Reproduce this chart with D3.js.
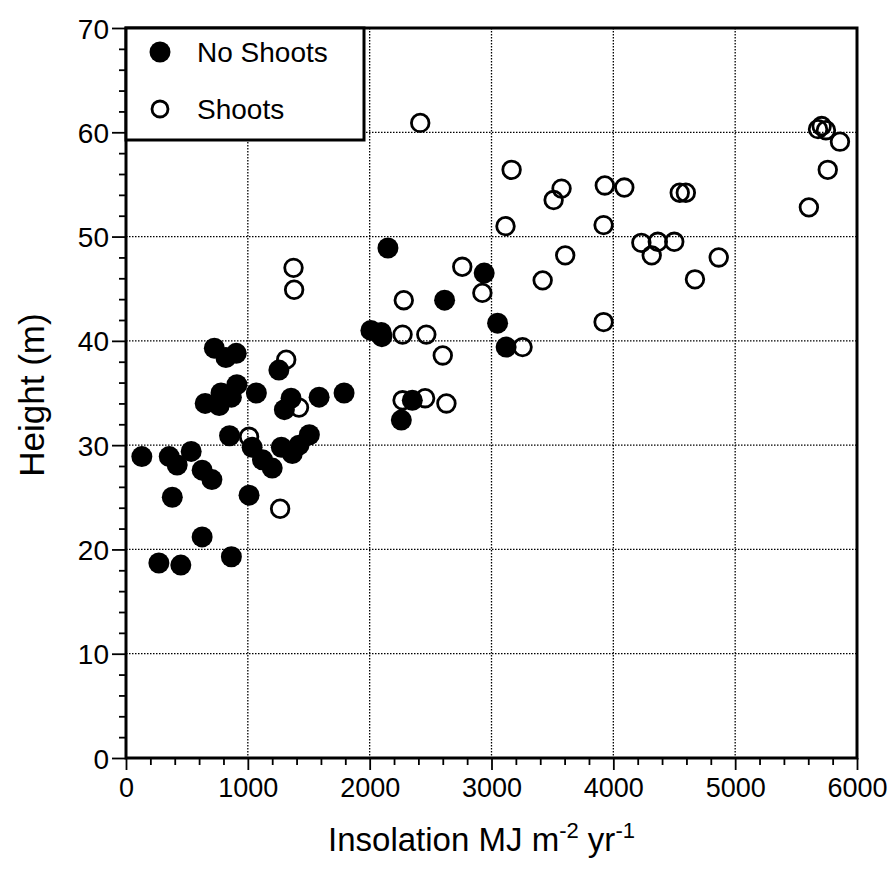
<!DOCTYPE html>
<html>
<head>
<meta charset="utf-8">
<script src="https://cdn.jsdelivr.net/npm/d3@7"></script>
<style>
	body { margin: 0; background: #fff; }
	text { font-family: "Liberation Sans", Arial, Helvetica, sans-serif; fill: #000; }
</style>
</head>
<body>
<div id="height_plot"></div>
<script>
// insolation (MJ m-2 yr-1) and height (m)
var noShootsX = [130, 270, 450, 355, 420, 535, 380, 625, 705, 625, 865,
	725, 820, 905, 650, 765, 780, 910, 865, 850, 1010,
	1070, 1255, 1355, 1300, 1585, 1790,
	1035, 1120, 1200, 1275, 1365, 1420, 1505,
	2150, 2940, 2615, 3050, 3120, 2010, 2095, 2100, 2350, 2260];
var noShootsY = [28.9, 18.7, 18.5, 28.9, 28.1, 29.4, 25.0, 27.6, 26.7, 21.2, 19.3,
	39.3, 38.4, 38.8, 34.0, 33.8, 35.0, 35.8, 34.6, 30.9, 25.2,
	35.0, 37.2, 34.5, 33.4, 34.6, 35.0,
	29.8, 28.6, 27.8, 29.8, 29.2, 30.0, 31.0,
	48.9, 46.5, 43.9, 41.7, 39.4, 41.0, 40.8, 40.4, 34.3, 32.4];

var shootsX = [1375, 1380, 1315, 1420, 1010, 1265,
	2415, 2760, 2925, 2280, 2270, 2465, 2600, 2270, 2455, 2630, 3255,
	3165, 3115, 3575, 3510, 3420, 3605, 3930, 4090, 3920, 3920,
	4230, 4365, 4500, 4315, 4545, 4595, 4865, 4670,
	5605, 5760, 5860, 5680, 5710, 5745];
var shootsY = [47.0, 44.9, 38.2, 33.6, 30.8, 23.9,
	60.9, 47.1, 44.6, 43.9, 40.6, 40.6, 38.6, 34.3, 34.5, 34.0, 39.4,
	56.4, 51.0, 54.6, 53.5, 45.8, 48.2, 54.9, 54.7, 51.1, 41.8,
	49.4, 49.5, 49.5, 48.2, 54.2, 54.2, 48.0, 45.9,
	52.8, 56.4, 59.1, 60.3, 60.6, 60.2];

var xTicks = [0, 1000, 2000, 3000, 4000, 5000, 6000];
var yTicks = [0, 10, 20, 30, 40, 50, 60, 70];
var legendLabels = ["No Shoots", "Shoots"];

var ScatterPlot = function(options) {
	this.opt = {
		'target': 'height_plot',
		'width': 894,
		'height': 872
	};
	Object.assign(this.opt, options || {});
	this.setupSVG();
	this.drawGrid();
	this.drawPoints();
	this.drawAxes();
	this.drawLegend();
};

ScatterPlot.prototype.setupSVG = function(){
	this.margin = {top: 28, right: 37, bottom: 114, left: 126};
	var width = this.opt.width - this.margin.left - this.margin.right;
	var height = this.opt.height - this.margin.top - this.margin.bottom;
	this.w = width;
	this.h = height;

	this.x = d3.scaleLinear().domain([0, 6000]).range([0, width]);
	this.y = d3.scaleLinear().domain([0, 70]).range([height, 0]);

	this.svg_out = d3.select("#" + this.opt.target).append("svg")
	.attr("width", this.opt.width)
	.attr("height", this.opt.height);

	this.svg = this.svg_out.append("g")
	.attr("transform", "translate(" + this.margin.left + "," + this.margin.top + ")");
};

ScatterPlot.prototype.drawGrid = function(){
	var self = this;
	var grid = this.svg.append("g").attr("class", "grid");
	grid.selectAll("line.vx")
	.data(xTicks.slice(1, -1))
	.enter().append("line")
	.attr("class", "vx")
	.attr("x1", function(d){ return self.x(d); })
	.attr("x2", function(d){ return self.x(d); })
	.attr("y1", 0).attr("y2", this.h);
	grid.selectAll("line.hy")
	.data(yTicks.slice(1, -1))
	.enter().append("line")
	.attr("class", "hy")
	.attr("y1", function(d){ return self.y(d); })
	.attr("y2", function(d){ return self.y(d); })
	.attr("x1", 0).attr("x2", this.w);
	grid.selectAll("line")
	.attr("stroke", "#000")
	.attr("stroke-width", 1.3)
	.attr("stroke-dasharray", "1.5,1.5");
};

ScatterPlot.prototype.drawPoints = function(){
	var self = this;
	var filled = d3.zip(noShootsX, noShootsY);
	var open = d3.zip(shootsX, shootsY);

	this.svg.append("g").selectAll("circle")
	.data(open)
	.enter().append("circle")
	.attr("cx", function(d){ return self.x(d[0]); })
	.attr("cy", function(d){ return self.y(d[1]); })
	.attr("r", 8.8)
	.attr("fill", "none")
	.attr("stroke", "#000")
	.attr("stroke-width", 2.8);

	this.svg.append("g").selectAll("circle")
	.data(filled)
	.enter().append("circle")
	.attr("cx", function(d){ return self.x(d[0]); })
	.attr("cy", function(d){ return self.y(d[1]); })
	.attr("r", 10.5)
	.attr("fill", "#000");
};

ScatterPlot.prototype.drawAxes = function(){
	var self = this;
	var xMinor = d3.range(0, 6001, 200).filter(function(v){ return v % 1000 != 0; });
	var yMinor = d3.range(0, 71, 2).filter(function(v){ return v % 10 != 0; });

	var xAxis = d3.axisBottom(this.x).tickValues(xTicks).tickSize(12).tickPadding(8).tickFormat(d3.format("d"));
	var xAxisMinor = d3.axisBottom(this.x).tickValues(xMinor).tickSize(7).tickFormat("");
	var yAxis = d3.axisLeft(this.y).tickValues(yTicks).tickSize(14).tickPadding(3).tickFormat(d3.format("d"));
	var yAxisMinor = d3.axisLeft(this.y).tickValues(yMinor).tickSize(7).tickFormat("");

	var gx = this.svg.append("g").attr("transform", "translate(0," + this.h + ")").call(xAxis);
	this.svg.append("g").attr("transform", "translate(0," + this.h + ")").call(xAxisMinor);
	var gy = this.svg.append("g").call(yAxis);
	this.svg.append("g").call(yAxisMinor);

	this.svg.selectAll(".domain").remove();
	this.svg.selectAll(".tick line").attr("stroke", "#000").attr("stroke-width", 1.8);
	gx.selectAll("text").style("font-size", "27px").attr("dy", "0.71em");
	gy.selectAll("text").style("font-size", "28px").attr("dy", "0.36em");

	// frame
	this.svg.append("rect")
	.attr("x", 0).attr("y", 0)
	.attr("width", this.w).attr("height", this.h)
	.attr("fill", "none")
	.attr("stroke", "#000")
	.attr("stroke-width", 3);

	var xt = this.svg_out.append("text")
	.attr("x", this.margin.left + this.w / 2 - 10)
	.attr("y", 851)
	.attr("text-anchor", "middle")
	.style("font-size", "33px");
	xt.append("tspan").text("Insolation MJ m");
	xt.append("tspan").attr("dy", -13).style("font-size", "22px").text("-2");
	xt.append("tspan").attr("dy", 13).text(" yr");
	xt.append("tspan").attr("dy", -13).style("font-size", "22px").text("-1");

	this.svg_out.append("text")
	.attr("transform", "translate(44," + (this.margin.top + this.h / 2 + 2) + ") rotate(-90)")
	.attr("text-anchor", "middle")
	.style("font-size", "35px")
	.text("Height (m)");
};

ScatterPlot.prototype.drawLegend = function(){
	var lg = this.svg.append("g").attr("class", "legend");
	lg.append("rect")
	.attr("x", 0).attr("y", 0)
	.attr("width", 238).attr("height", 112)
	.attr("fill", "#fff")
	.attr("stroke", "#000")
	.attr("stroke-width", 3);

	var rows = lg.selectAll("g.row")
	.data(legendLabels)
	.enter().append("g")
	.attr("class", "row")
	.attr("transform", function(d, i){ return "translate(34," + (24 + i * 57) + ")"; });

	rows.append("circle")
	.attr("r", function(d, i){ return i == 0 ? 10.5 : 8; })
	.attr("fill", function(d, i){ return i == 0 ? "#000" : "#fff"; })
	.attr("stroke", "#000")
	.attr("stroke-width", function(d, i){ return i == 0 ? 0 : 2.8; });

	rows.append("text")
	.attr("x", 37)
	.attr("dy", "0.36em")
	.style("font-size", "28px")
	.text(function(d){ return d; });
};

new ScatterPlot({});
</script>
</body>
</html>
